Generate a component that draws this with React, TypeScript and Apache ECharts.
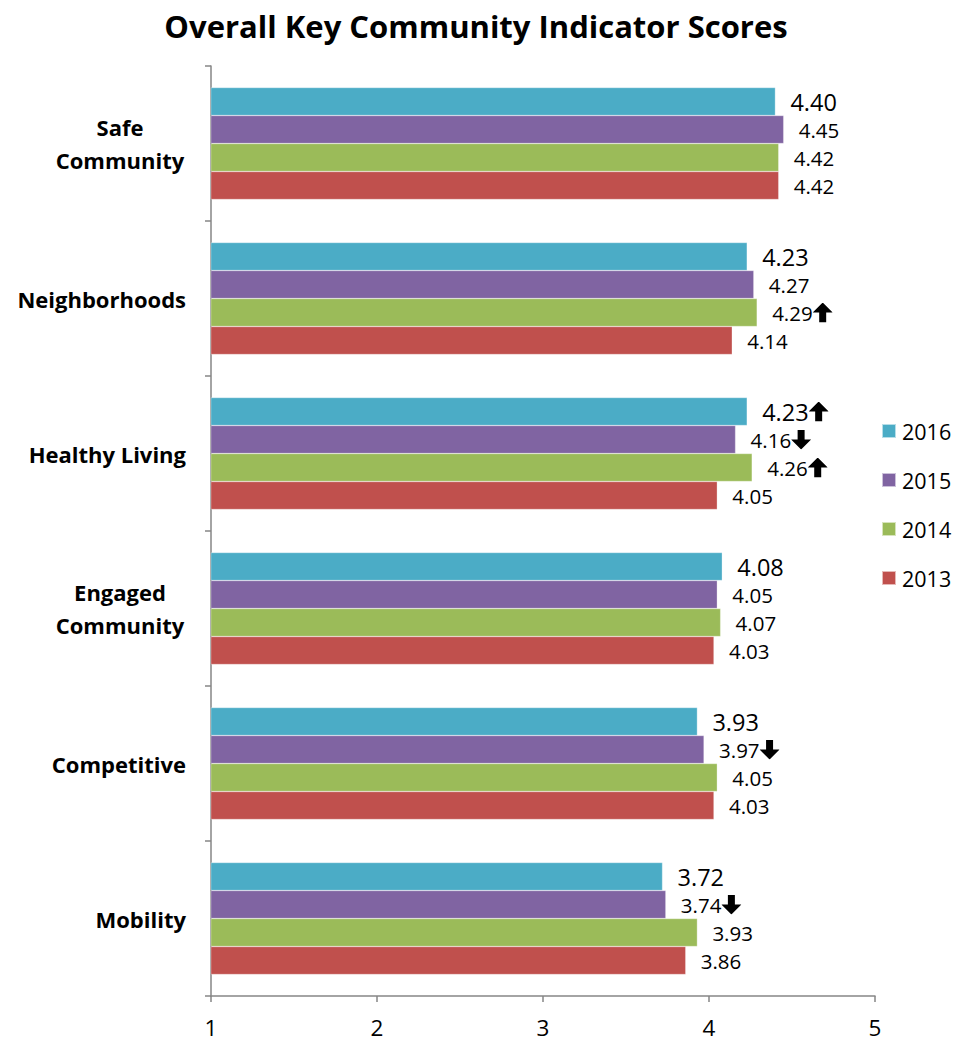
import React, { useEffect, useRef } from "react";
import * as echarts from "echarts";

const categories = [
  "Safe Community",
  "Neighborhoods",
  "Healthy Living",
  "Engaged Community",
  "Competitive",
  "Mobility",
];

const years = ["2016", "2015", "2014", "2013"];

const scores2016 = [4.4, 4.23, 4.23, 4.08, 3.93, 3.72];
const scores2015 = [4.45, 4.27, 4.16, 4.05, 3.97, 3.74];
const scores2014 = [4.42, 4.29, 4.26, 4.07, 4.05, 3.93];
const scores2013 = [4.42, 4.14, 4.05, 4.03, 4.03, 3.86];

// Significant change markers shown after a value label
const trend2016 = ["", "", "up", "", "", ""];
const trend2015 = ["", "", "down", "", "down", "down"];
const trend2014 = ["", "up", "up", "", "", ""];
const trend2013 = ["", "", "", "", "", ""];

const xTicks = [1, 2, 3, 4, 5];

const colors = ["#4BACC6", "#8064A2", "#9BBB59", "#C0504D"];

const FONT = "'Open Sans', sans-serif";

// Block arrow icons used inside value labels
const arrowSvg = (d: string) =>
  "data:image/svg+xml;charset=utf-8," +
  encodeURIComponent(
    `<svg xmlns="http://www.w3.org/2000/svg" width="20" height="20" viewBox="0 0 20 20"><path d="${d}" fill="#000"/></svg>`
  );
const UP_ICON = arrowSvg("M10 0 L20 10 L13.5 10 L13.5 20 L6.5 20 L6.5 10 L0 10 Z");
const DOWN_ICON = arrowSvg("M10 20 L20 10 L13.5 10 L13.5 0 L6.5 0 L6.5 10 L0 10 Z");

export default function App() {
  const ref = useRef<HTMLDivElement>(null);

  useEffect(() => {
    document.body.style.margin = "0";
    if (!ref.current) return;
    const chart = echarts.init(ref.current, null, { renderer: "svg" });

    const seriesData = [scores2016, scores2015, scores2014, scores2013];
    const trends = [trend2016, trend2015, trend2014, trend2013];

    const series = years.map((year, i) => ({
      name: year,
      type: "bar",
      data: seriesData[i],
      barWidth: 28,
      barGap: "0%",
      itemStyle: { color: colors[i], borderColor: "rgba(255,255,255,0.6)", borderWidth: 0.5 },
      label: {
        show: true,
        position: "right",
        distance: 15,
        formatter: (p: any) => {
          const t = trends[i][p.dataIndex];
          const v = `{v|${Number(p.value).toFixed(2)}}`;
          if (t === "up") return v + "{up| }";
          if (t === "down") return v + "{dn| }";
          return v;
        },
        rich: {
          v: { fontFamily: FONT, fontSize: i === 0 ? 23.5 : 20.5, color: "#000" },
          up: { width: 20, height: 20, backgroundColor: { image: UP_ICON } },
          dn: { width: 20, height: 20, backgroundColor: { image: DOWN_ICON } },
        },
      },
    }));

    const labelFmt = (val: string) => {
      const parts = val.split(" ");
      if (val === "Safe Community" || val === "Engaged Community") {
        return parts.map((p) => `{c|${p}}`).join("\n");
      }
      return `{s|${val}}`;
    };

    chart.setOption({
      animation: false,
      title: {
        text: "Overall Key Community Indicator Scores",
        left: 471,
        top: 5,
        textAlign: "center",
        textStyle: { fontFamily: FONT, fontSize: 31, fontWeight: "bold", color: "#000" },
      },
      legend: {
        orient: "vertical",
        left: 876,
        top: 415,
        itemWidth: 14,
        itemHeight: 14,
        itemGap: 27,
        icon: "rect",
        data: years,
        textStyle: { fontFamily: FONT, fontSize: 21.5, color: "#000", padding: [0, 0, 0, 1] },
      },
      grid: { left: 211, right: 86, top: 66, bottom: 46, containLabel: false },
      xAxis: {
        type: "value",
        min: 1,
        max: 5,
        interval: 1,
        axisLine: { show: true, lineStyle: { color: "#868686", width: 1.5 } },
        axisTick: { show: true, length: 6, lineStyle: { color: "#868686", width: 1.5 } },
        splitLine: { show: false },
        axisLabel: {
          fontFamily: FONT,
          fontSize: 22.5,
          color: "#000",
          margin: 20,
          formatter: (v: number) => (xTicks.includes(v) ? String(v) : ""),
        },
      },
      yAxis: {
        type: "category",
        inverse: true,
        data: categories,
        axisLine: { show: true, lineStyle: { color: "#868686", width: 1.5 } },
        axisTick: { show: true, length: 6, lineStyle: { color: "#868686", width: 1.5 } },
        axisLabel: {
          margin: 25,
          formatter: labelFmt,
          rich: {
            c: {
              fontFamily: FONT,
              fontSize: 22,
              fontWeight: "bold",
              color: "#000",
              width: 132,
              align: "center",
              lineHeight: 33,
            },
            s: { fontFamily: FONT, fontSize: 22, fontWeight: "bold", color: "#000" },
          },
        },
      },
      series,
    });

    return () => chart.dispose();
  }, []);

  return <div ref={ref} style={{ width: 961, height: 1042 }} />;
}
